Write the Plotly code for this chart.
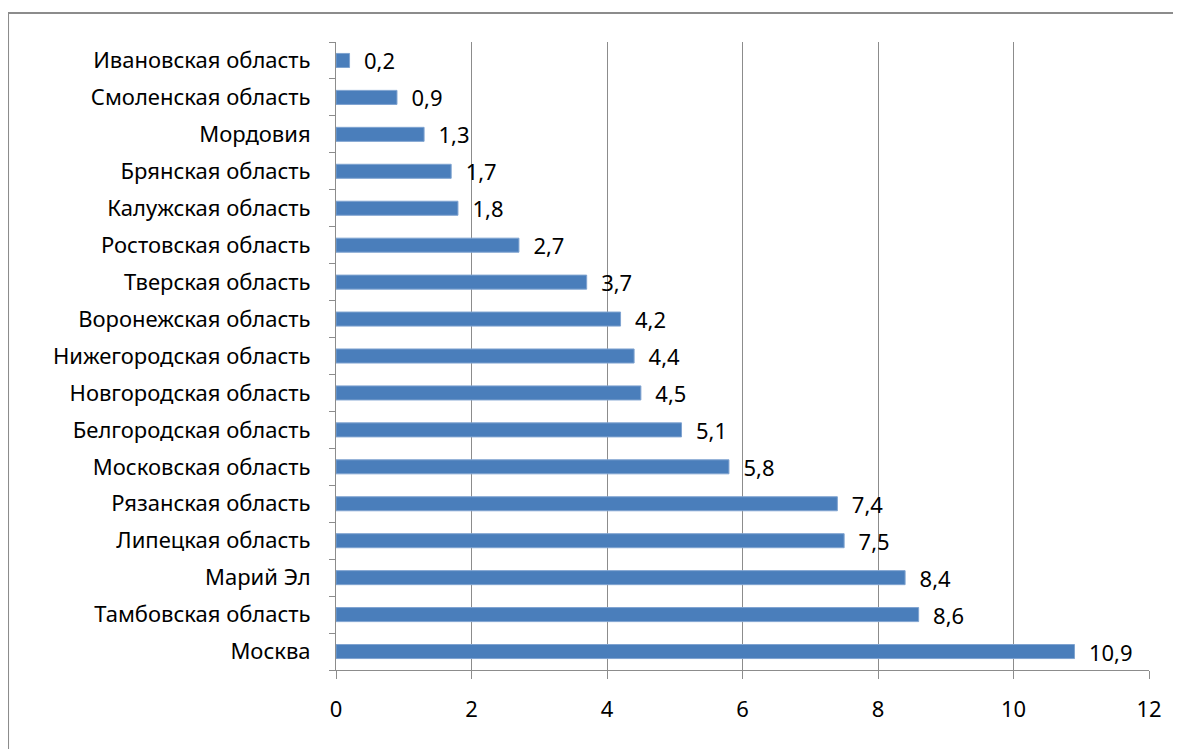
import plotly.graph_objects as go

regions = [
    "Москва", "Тамбовская область", "Марий Эл", "Липецкая область",
    "Рязанская область", "Московская область", "Белгородская область",
    "Новгородская область", "Нижегородская область", "Воронежская область",
    "Тверская область", "Ростовская область", "Калужская область",
    "Брянская область", "Мордовия", "Смоленская область", "Ивановская область",
]
values = [10.9, 8.6, 8.4, 7.5, 7.4, 5.8, 5.1, 4.5, 4.4, 4.2, 3.7, 2.7, 1.8, 1.7, 1.3, 0.9, 0.2]
x_ticks = [0, 2, 4, 6, 8, 10, 12]

labels = ["  " + f"{v:.1f}".replace(".", ",") for v in values]

FONT = "Noto Sans"
FS = 22

fig = go.Figure(go.Bar(
    x=values, y=regions, orientation="h",
    marker=dict(color="#4A7EBB", line=dict(color="#7FA3D0", width=1)),
    text=labels, textposition="outside", cliponaxis=False,
    constraintext="none",
    textfont=dict(family=FONT, size=FS, color="#000000"),
    hoverinfo="skip",
))

fig.update_layout(
    width=1181, height=749,
    margin=dict(l=328, r=40, t=34, b=87, autoexpand=False),
    plot_bgcolor="white", paper_bgcolor="white",
    bargap=0.62,
    showlegend=False,
    font=dict(family=FONT, size=FS, color="#000000"),
    xaxis=dict(
        range=[0, 12], tickvals=x_ticks, ticktext=[str(t) for t in x_ticks],
        showgrid=True, gridcolor="#8C8C8C", gridwidth=1,
        showline=True, linecolor="#8C8C8C", linewidth=1,
        ticks="outside", ticklen=8, tickcolor="#8C8C8C",
        ticklabelstandoff=12, zeroline=False, automargin=False,
        tickfont=dict(family=FONT, size=FS),
    ),
    yaxis=dict(
        categoryorder="array", categoryarray=regions,
        showgrid=False, showline=True, linecolor="#8C8C8C", linewidth=1,
        ticks="outside", ticklen=6, tickcolor="#8C8C8C", tickson="boundaries",
        ticklabelstandoff=20, automargin=False,
        tickfont=dict(family=FONT, size=FS),
    ),
    shapes=[dict(
        type="rect", xref="paper", yref="paper",
        x0=-0.4034, x1=1.2, y0=-0.3, y1=1.0462,
        line=dict(color="#8C8C8C", width=2), layer="below",
    )],
)

fig.write_html("out.html")
